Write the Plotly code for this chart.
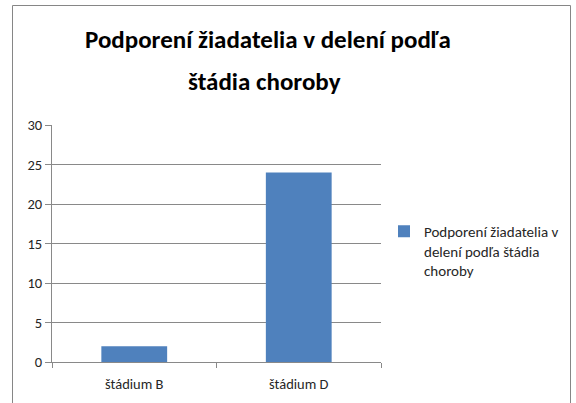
import plotly.graph_objects as go

categories = ["štádium B", "štádium D"]
values = [2, 24]
series_name = "Podporení žiadatelia v<br>delení podľa štádia<br>choroby"
title_lines = ["Podporení žiadatelia v delení podľa", "štádia choroby"]
y_ticks = [0, 5, 10, 15, 20, 25, 30]

W, H = 576, 403
L, R, T, B = 52, 381, 125, 362
pw, ph = R - L, B - T

def px(x):
    return (x - L) / pw

def py(y):
    return (B - y) / ph

font_family = "Carlito, Lato, sans-serif"
grid_col = "#898989"
text_col = "#262626"

fig = go.Figure()
fig.add_trace(go.Bar(
    x=categories, y=values, name=series_name,
    marker=dict(color="#4F81BD", line=dict(color="#4F81BD", width=0)),
    showlegend=True,
))

title_pos = [(268, 40), (264, 81)]
annotations = [
    dict(
        text="<b>" + line + "</b>", xref="paper", yref="paper",
        x=px(cx), y=py(cy), xanchor="center", yanchor="middle",
        showarrow=False, align="center",
        font=dict(family=font_family, size=25, color="#000000"),
    )
    for line, (cx, cy) in zip(title_lines, title_pos)
]

fig.update_layout(
    width=W, height=H,
    margin=dict(l=L, r=W - R, t=T, b=H - B, pad=0, autoexpand=False),
    paper_bgcolor="white", plot_bgcolor="white",
    bargap=0.6,
    font=dict(family=font_family, size=14, color=text_col),
    showlegend=True,
    legend=dict(
        x=px(384), y=py(215), xanchor="left", yanchor="top",
        font=dict(family=font_family, size=15, color=text_col),
        itemwidth=30, valign="top", traceorder="normal", bgcolor="rgba(0,0,0,0)",
    ),
    xaxis=dict(
        showgrid=False, showline=True, linecolor=grid_col, linewidth=1,
        ticks="outside", ticklen=5, tickcolor=grid_col, tickson="boundaries",
        ticklabelstandoff=9,
        tickfont=dict(family=font_family, size=14.5, color=text_col),
    ),
    yaxis=dict(
        range=[0, 30], tickvals=y_ticks, showgrid=True, gridcolor=grid_col, gridwidth=1,
        showline=True, linecolor=grid_col, linewidth=1,
        ticks="outside", ticklen=6, tickcolor=grid_col,
        tickfont=dict(family=font_family, size=14.5, color=text_col),
        zeroline=False,
    ),
    annotations=annotations,
    shapes=[dict(
        type="rect", xref="paper", yref="paper",
        x0=px(12.5), x1=px(570.5), y0=py(420), y1=py(5.5),
        line=dict(color="#868686", width=1), fillcolor="rgba(0,0,0,0)", layer="below",
    )],
)

fig.write_html("out.html", config={"displayModeBar": False},
               post_script="document.body.style.margin='0';")
